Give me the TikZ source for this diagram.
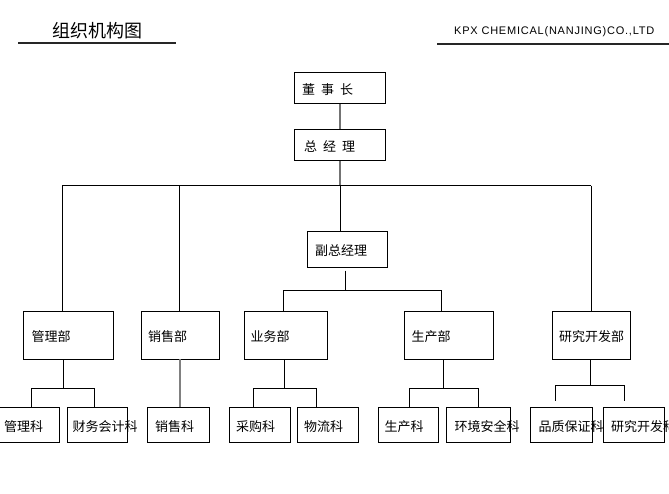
\documentclass[tikz,border=0pt]{standalone}
\usepackage{fontspec}
\newfontfamily\cjk{Noto Sans CJK SC}
\newfontfamily\lat[LetterSpace=7]{Liberation Sans}
\begin{document}
\begin{tikzpicture}[x=1pt,y=-1pt,
  boxst/.style={draw=black, line width=1pt, inner sep=0pt, anchor=north west},
  txt/.style={anchor=west, inner sep=0pt, yshift=-1.8pt, font=\cjk\fontsize{13}{13}\selectfont},
  ln/.style={draw=black, line width=1pt},
  grayln/.style={draw=black!55, line width=1.2pt},
  uline/.style={draw=black!85, line width=2pt}]
\useasboundingbox (0,0) rectangle (669,493);
\fill[white] (0,0) rectangle (669,493);
% header
\node[anchor=west, inner sep=0pt, font=\cjk\fontsize{18}{18}\selectfont] (title) at (52,31) {组织机构图};
\coordinate (t1) at (18,42.5); \coordinate (t2) at (176,42.5);
\draw[uline] (t1) -- (t2);
\node[anchor=west, inner sep=0pt, font=\lat\fontsize{11}{11}\selectfont] (comp) at (454,31.5) {KPX CHEMICAL(NANJING)CO.,LTD};
\coordinate (c1) at (437,43.5); \coordinate (c2) at (669,43.5);
\draw[uline] (c1) -- (c2);
% macro for boxes
\newcommand\orgbox[7]{%
  \node[boxst, minimum width={#4-#2}, minimum height={#5-#3}] (#1) at (#2,#3) {};
  \node[txt] (#1t) at (#6,{(#3+#5)/2}) {#7};}
% top
\orgbox{dsz}{294}{72}{385}{103}{302}{董\hspace{6pt}事\hspace{6pt}长}
\orgbox{zjl}{294}{129}{385}{160}{304}{总\hspace{6pt}经\hspace{6pt}理}
\orgbox{fzjl}{307}{231}{387}{267}{315}{副总经理}
% departments
\orgbox{glb}{23}{311}{113}{359}{31.5}{管理部}
\orgbox{xsb}{141}{311}{219}{359}{148}{销售部}
\orgbox{ywb}{244}{311}{327}{359}{250.5}{业务部}
\orgbox{scb}{404}{311}{493}{359}{411.5}{生产部}
\orgbox{yjb}{552}{311}{630}{359}{559}{研究开发部}
% sections
\orgbox{glk}{-3}{407}{59}{442}{4}{管理科}
\orgbox{cwk}{66.5}{407}{127}{442}{72.5}{财务会计科}
\orgbox{xsk}{147}{407}{208.5}{442}{155}{销售科}
\orgbox{cgk}{229}{407}{290}{442}{236}{采购科}
\orgbox{wlk}{296.5}{407}{358}{442}{304}{物流科}
\orgbox{sck}{377.5}{407}{438}{442}{384.5}{生产科}
\orgbox{hjk}{446}{407}{510}{442}{454.5}{环境安全科}
\orgbox{pzk}{530}{407}{592}{442}{538.5}{品质保证科}
\orgbox{yjk}{603}{407}{664}{442}{611}{研究开发科}
% connectors top
\draw[grayln] (dsz.south) -- (zjl.north);
\coordinate (busL) at (62,185.5);
\coordinate (busS) at (179.7,185.5);
\coordinate (busM) at (340,185.5);
\coordinate (busR) at (591.3,185.5);
\draw[grayln] (zjl.south) -- (zjl.south |- busM);
\draw[ln] (busL) -- (busR);
\draw[ln] (busL) -- (busL |- glb.north);
\draw[ln] (busS) -- (busS |- xsb.north);
\draw[ln] (busM) -- (busM |- fzjl.north);
\draw[ln] (busR) -- (busR |- yjb.north);
% vice manager
\coordinate (fz1) at (345.3,270.7);
\coordinate (fz2) at (345.3,290.3);
\coordinate (fzL) at (283.3,290.3);
\coordinate (fzR) at (441.7,290.3);
\draw[ln] (fz1) -- (fz2);
\draw[ln] (fzL) -- (fzR);
\draw[ln] (fzL) -- (fzL |- ywb.north);
\draw[ln] (fzR) -- (fzR |- scb.north);
% glb
\coordinate (g0) at (63.3,359); \coordinate (g1) at (63.3,388.3);
\coordinate (gL) at (31.7,388.3); \coordinate (gR) at (94.3,388.3);
\draw[ln] (g0) -- (g1); \draw[ln] (gL) -- (gR);
\draw[ln] (gL) -- (gL |- glk.north); \draw[ln] (gR) -- (gR |- cwk.north);
% xsb
\coordinate (x0) at (179.7,359);
\draw[draw=black!50, line width=2pt] (x0) -- (x0 |- xsk.north);
% ywb
\coordinate (y0) at (284.3,359); \coordinate (y1) at (284.3,388.3);
\coordinate (yL) at (253.3,388.3); \coordinate (yR) at (316.7,388.3);
\draw[ln] (y0) -- (y1); \draw[ln] (yL) -- (yR);
\draw[ln] (yL) -- (yL |- cgk.north); \draw[ln] (yR) -- (yR |- wlk.north);
% scb
\coordinate (s0) at (443.3,359); \coordinate (s1) at (443.3,388.3);
\coordinate (sL) at (409.3,388.3); \coordinate (sR) at (478.3,388.3);
\draw[ln] (s0) -- (s1); \draw[ln] (sL) -- (sR);
\draw[ln] (sL) -- (sL |- sck.north); \draw[ln] (sR) -- (sR |- hjk.north);
% yjb
\coordinate (r0) at (590.3,359); \coordinate (r1) at (590.3,385.3);
\coordinate (rL) at (555.7,385.3); \coordinate (rR) at (624.3,385.3);
\coordinate (rLe) at (555.7,401.3); \coordinate (rRe) at (624.3,401.3);
\draw[ln] (r0) -- (r1); \draw[ln] (rL) -- (rR);
\draw[ln] (rL) -- (rLe); \draw[ln] (rR) -- (rRe);
\end{tikzpicture}
\end{document}
